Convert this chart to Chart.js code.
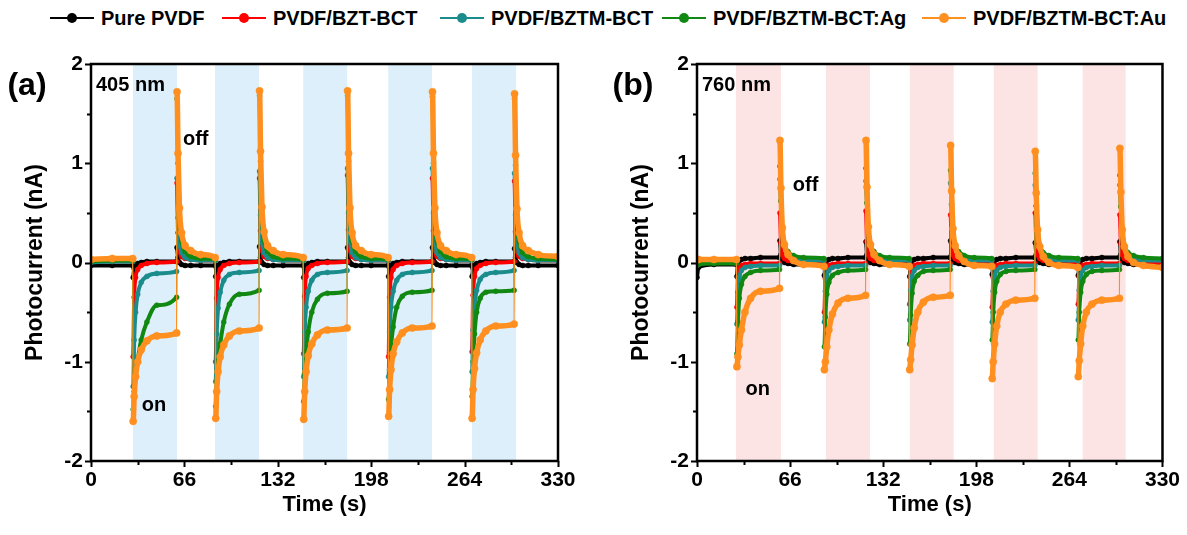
<!DOCTYPE html>
<html>
<head>
<meta charset="utf-8">
<script src="https://cdn.jsdelivr.net/npm/chart.js@4.4.1/dist/chart.umd.min.js"></script>
<style>
  body { margin: 0; background: #fff; width: 1187px; height: 535px; overflow: hidden; position: relative;
         font-family: "Liberation Sans", Arial, sans-serif; }
  .item { position: absolute; top: 7px; height: 22px; display: flex; align-items: center;
          font-weight: bold; font-size: 20px; color: #000; white-space: nowrap; }
  .sw { position: relative; width: 44px; height: 2px; margin-right: 7px; }
  .sw b { position: absolute; left: 17px; top: -4px; width: 10px; height: 10px; border-radius: 50%; }
  .wrap { position: absolute; top: 0; height: 535px; }
</style>
</head>
<body>
<div id="legend"></div>
<div class="wrap" style="left:0;width:590px"><canvas id="chartA"></canvas></div>
<div class="wrap" style="left:606px;width:581px"><canvas id="chartB"></canvas></div>
<script>
// series names and colours
const seriesNames = ["Pure PVDF", "PVDF/BZT-BCT", "PVDF/BZTM-BCT", "PVDF/BZTM-BCT:Ag", "PVDF/BZTM-BCT:Au"];
const seriesColors = ["#000000", "#ff0000", "#1b8c8c", "#118811", "#ff8f1f"];

const xTicks = [0, 66, 132, 198, 264, 330];
const yTicks = [-2, -1, 0, 1, 2];

// (a) 405 nm - light on periods (shaded)
const bandStartA = [29.7, 87.6, 150, 210, 269.3];
const bandEndA = [60.8, 118.7, 181, 241, 300.4];

// (a) sample times (s)
const timeA = [
  0, 15,
  29.5, 29.8, 30.5, 31.5, 33, 35.5, 39.5, 46.5, 60.5, 60.8, 61.5, 62.5, 64, 66.5, 70.5, 77.5,
  87.8, 88.1, 88.8, 89.8, 91.3, 93.8, 97.8, 104.8, 118.8, 119.1, 119.8, 120.8, 122.3, 124.8, 128.8, 135.8,
  150, 150.3, 151, 152, 153.5, 156, 160, 167, 181, 181.3, 182, 183, 184.5, 187, 191, 198,
  210, 210.3, 211, 212, 213.5, 216, 220, 227, 241, 241.3, 242, 243, 244.5, 247, 251, 258,
  269, 269.3, 270, 271, 272.5, 275, 279, 286, 299, 299.3, 300, 301, 302.5, 305, 309, 316,
  330
];

const pureA = [
  -0.03, -0.03,
  -0.03, -0.15, -0.06, -0.03, -0.01, 0.00, 0.01, 0.01, 0.01, 0.15, 0.05, 0.00, -0.02, -0.03, -0.03, -0.03,
  -0.03, -0.14, -0.06, -0.03, -0.01, 0.00, 0.01, 0.01, 0.01, 0.16, 0.05, 0.00, -0.02, -0.03, -0.03, -0.03,
  -0.03, -0.15, -0.06, -0.03, -0.01, 0.00, 0.01, 0.01, 0.01, 0.15, 0.05, 0.00, -0.02, -0.03, -0.03, -0.03,
  -0.03, -0.14, -0.06, -0.03, -0.01, 0.00, 0.01, 0.01, 0.01, 0.15, 0.05, 0.00, -0.02, -0.03, -0.03, -0.03,
  -0.03, -0.14, -0.06, -0.03, -0.01, 0.00, 0.01, 0.01, 0.01, 0.14, 0.05, 0.00, -0.02, -0.03, -0.03, -0.03,
  -0.03
];
const bztA = [
  0.01, 0.02,
  0.02, -0.95, -0.35, -0.15, -0.07, -0.03, -0.01, 0.00, 0.01, 0.80, 0.30, 0.12, 0.06, 0.04, 0.03, 0.02,
  0.02, -1.00, -0.36, -0.15, -0.07, -0.03, -0.01, 0.00, 0.01, 0.85, 0.32, 0.13, 0.06, 0.04, 0.03, 0.02,
  0.02, -0.92, -0.34, -0.14, -0.06, -0.03, -0.01, 0.00, 0.01, 0.88, 0.33, 0.13, 0.06, 0.04, 0.03, 0.02,
  0.02, -0.95, -0.35, -0.15, -0.07, -0.03, -0.01, 0.00, 0.01, 0.85, 0.32, 0.13, 0.06, 0.04, 0.03, 0.02,
  0.02, -0.90, -0.33, -0.14, -0.06, -0.03, -0.01, 0.00, 0.01, 0.82, 0.31, 0.12, 0.06, 0.04, 0.03, 0.02,
  0.02
];
const bztmA = [
  0.00, 0.01,
  0.01, -1.25, -0.78, -0.50, -0.32, -0.20, -0.14, -0.11, -0.09, 0.85, 0.45, 0.20, 0.10, 0.05, 0.03, 0.02,
  0.02, -1.20, -0.72, -0.46, -0.30, -0.18, -0.12, -0.10, -0.08, 0.92, 0.48, 0.21, 0.10, 0.05, 0.03, 0.02,
  0.02, -1.15, -0.70, -0.45, -0.29, -0.18, -0.12, -0.10, -0.08, 0.95, 0.50, 0.22, 0.10, 0.05, 0.03, 0.02,
  0.02, -1.15, -0.70, -0.45, -0.29, -0.18, -0.12, -0.10, -0.08, 0.95, 0.50, 0.22, 0.10, 0.05, 0.03, 0.02,
  0.02, -1.10, -0.68, -0.44, -0.28, -0.17, -0.12, -0.10, -0.08, 0.90, 0.48, 0.21, 0.10, 0.05, 0.03, 0.02,
  0.02
];
const agA = [
  0.01, 0.02,
  0.02, -1.48, -1.30, -1.15, -0.98, -0.78, -0.60, -0.43, -0.35, 1.65, 1.00, 0.45, 0.22, 0.11, 0.06, 0.04,
  0.03, -1.45, -1.20, -1.00, -0.82, -0.60, -0.42, -0.32, -0.28, 1.68, 1.02, 0.46, 0.22, 0.11, 0.06, 0.04,
  0.03, -1.40, -1.12, -0.90, -0.70, -0.50, -0.37, -0.31, -0.29, 1.68, 1.02, 0.46, 0.22, 0.11, 0.06, 0.04,
  0.03, -1.38, -1.08, -0.85, -0.65, -0.45, -0.34, -0.30, -0.28, 1.67, 1.00, 0.45, 0.22, 0.11, 0.06, 0.04,
  0.03, -1.35, -1.00, -0.72, -0.50, -0.36, -0.30, -0.29, -0.28, 1.65, 0.98, 0.44, 0.21, 0.10, 0.06, 0.04,
  0.03
];
const auA = [
  0.03, 0.04,
  0.04, -1.60, -1.35, -1.15, -1.00, -0.88, -0.79, -0.74, -0.71, 1.72, 1.10, 0.55, 0.30, 0.17, 0.12, 0.08,
  0.05, -1.57, -1.30, -1.10, -0.95, -0.83, -0.74, -0.69, -0.66, 1.73, 1.12, 0.56, 0.31, 0.17, 0.12, 0.08,
  0.05, -1.58, -1.30, -1.10, -0.94, -0.82, -0.73, -0.68, -0.66, 1.73, 1.10, 0.55, 0.30, 0.17, 0.12, 0.08,
  0.05, -1.55, -1.28, -1.08, -0.92, -0.80, -0.71, -0.66, -0.64, 1.72, 1.10, 0.55, 0.30, 0.17, 0.12, 0.08,
  0.05, -1.57, -1.28, -1.07, -0.91, -0.78, -0.69, -0.64, -0.62, 1.70, 1.08, 0.54, 0.30, 0.17, 0.12, 0.08,
  0.06
];

// (b) 760 nm
const bandStartB = [27.6, 91.4, 150.9, 210.4, 273.4];
const bandEndB = [59.5, 122.6, 182, 241.5, 303.9];

const timeB = [
  0, 1, 12,
  28, 28.3, 29, 30, 31.5, 34, 38, 45, 58.5, 58.8, 59.5, 60.5, 62, 64.5, 68.5, 75.5,
  90, 90.3, 91, 92, 93.5, 96, 100, 107, 119.5, 119.8, 120.5, 121.5, 123, 125.5, 129.5, 136.5,
  150.5, 150.8, 151.5, 152.5, 154, 156.5, 160.5, 167.5, 179.5, 179.8, 180.5, 181.5, 183, 185.5, 189.5, 196.5,
  209, 209.3, 210, 211, 212.5, 215, 219, 226, 239.5, 239.8, 240.5, 241.5, 243, 245.5, 249.5, 256.5,
  270, 270.3, 271, 272, 273.5, 276, 280, 287, 299.5, 299.8, 300.5, 301.5, 303, 305.5, 309.5, 316.5,
  330
];

const pureB = [
  -0.15, -0.05, -0.02,
  -0.02, -0.14, -0.02, 0.02, 0.03, 0.04, 0.04, 0.05, 0.05, 0.22, 0.08, 0.02, 0.00, -0.01, -0.02, -0.02,
  -0.02, -0.13, -0.02, 0.02, 0.03, 0.04, 0.04, 0.05, 0.05, 0.21, 0.08, 0.02, 0.00, -0.01, -0.02, -0.02,
  -0.02, -0.14, -0.02, 0.02, 0.03, 0.04, 0.04, 0.05, 0.05, 0.22, 0.08, 0.02, 0.00, -0.01, -0.02, -0.02,
  -0.02, -0.12, -0.02, 0.02, 0.03, 0.04, 0.04, 0.05, 0.05, 0.20, 0.08, 0.02, 0.00, -0.01, -0.02, -0.02,
  -0.02, -0.13, -0.02, 0.02, 0.03, 0.04, 0.04, 0.05, 0.05, 0.21, 0.08, 0.02, 0.00, -0.01, -0.02, -0.02,
  -0.02
];
const bztB = [
  -0.03, -0.01, 0.00,
  0.00, -0.45, -0.15, -0.06, -0.03, -0.02, -0.01, -0.01, -0.01, 0.50, 0.20, 0.08, 0.04, 0.02, 0.01, 0.00,
  0.00, -0.50, -0.16, -0.06, -0.03, -0.02, -0.01, -0.01, -0.01, 0.52, 0.21, 0.08, 0.04, 0.02, 0.01, 0.00,
  0.00, -0.42, -0.14, -0.06, -0.03, -0.02, -0.01, -0.01, -0.01, 0.48, 0.19, 0.08, 0.04, 0.02, 0.01, 0.00,
  0.00, -0.45, -0.15, -0.06, -0.03, -0.02, -0.01, -0.01, -0.01, 0.50, 0.20, 0.08, 0.04, 0.02, 0.01, 0.00,
  0.00, -0.42, -0.14, -0.06, -0.03, -0.02, -0.01, -0.01, -0.01, 0.48, 0.19, 0.08, 0.04, 0.02, 0.01, 0.00,
  0.00
];
const bztmB = [
  -0.02, -0.01, 0.00,
  0.00, -0.62, -0.30, -0.15, -0.08, -0.05, -0.04, -0.03, -0.03, 0.84, 0.62, 0.36, 0.18, 0.08, 0.04, 0.02,
  0.02, -0.60, -0.29, -0.14, -0.08, -0.05, -0.04, -0.03, -0.03, 0.82, 0.60, 0.35, 0.18, 0.08, 0.04, 0.02,
  0.02, -0.58, -0.28, -0.14, -0.08, -0.05, -0.04, -0.03, -0.03, 0.80, 0.58, 0.34, 0.17, 0.08, 0.04, 0.02,
  0.02, -0.60, -0.29, -0.14, -0.08, -0.05, -0.04, -0.03, -0.03, 0.78, 0.57, 0.33, 0.17, 0.08, 0.04, 0.02,
  0.02, -0.58, -0.28, -0.14, -0.08, -0.05, -0.04, -0.03, -0.03, 0.78, 0.57, 0.33, 0.17, 0.08, 0.04, 0.02,
  0.02
];
const agB = [
  -0.03, -0.02, -0.01,
  -0.01, -0.92, -0.60, -0.36, -0.22, -0.14, -0.10, -0.08, -0.07, 0.97, 0.62, 0.32, 0.18, 0.11, 0.07, 0.05,
  0.04, -0.85, -0.55, -0.32, -0.20, -0.13, -0.10, -0.08, -0.07, 0.95, 0.60, 0.31, 0.18, 0.11, 0.07, 0.05,
  0.04, -0.82, -0.53, -0.31, -0.19, -0.13, -0.09, -0.08, -0.07, 0.93, 0.59, 0.30, 0.17, 0.11, 0.07, 0.05,
  0.04, -0.78, -0.50, -0.30, -0.19, -0.12, -0.09, -0.08, -0.07, 0.90, 0.57, 0.29, 0.17, 0.10, 0.07, 0.05,
  0.04, -0.78, -0.50, -0.30, -0.19, -0.12, -0.09, -0.08, -0.07, 0.88, 0.56, 0.29, 0.17, 0.10, 0.07, 0.05,
  0.04
];
const auB = [
  0.03, 0.03, 0.03,
  0.03, -1.05, -0.95, -0.83, -0.68, -0.50, -0.36, -0.29, -0.26, 1.23, 0.75, 0.35, 0.18, 0.08, 0.02, -0.02,
  -0.04, -1.08, -1.00, -0.85, -0.68, -0.52, -0.41, -0.36, -0.33, 1.23, 0.76, 0.36, 0.18, 0.08, 0.02, -0.02,
  -0.04, -1.08, -0.98, -0.83, -0.66, -0.50, -0.40, -0.35, -0.33, 1.18, 0.72, 0.34, 0.17, 0.07, 0.01, -0.03,
  -0.04, -1.17, -1.00, -0.82, -0.64, -0.50, -0.42, -0.38, -0.36, 1.12, 0.70, 0.33, 0.16, 0.06, 0.00, -0.03,
  -0.05, -1.15, -0.99, -0.82, -0.64, -0.50, -0.42, -0.38, -0.36, 1.15, 0.71, 0.33, 0.16, 0.06, 0.00, -0.03,
  -0.05
];

// legend (shared by both panels)
const legendLeft = [50, 222, 440, 662, 922];
const legend = document.getElementById("legend");
seriesNames.forEach((name, i) => {
  const el = document.createElement("div");
  el.className = "item";
  el.style.left = legendLeft[i] + "px";
  el.innerHTML = '<span class="sw" style="background:' + seriesColors[i] + '"><b style="background:' +
    seriesColors[i] + '"></b></span>' + name;
  legend.appendChild(el);
});

const FONT = "'Liberation Sans', Arial, sans-serif";

// bands, frame, tick marks and texts
const framePlugin = {
  id: "frame",
  beforeDatasetsDraw(chart, args, opts) {
    const { ctx, chartArea: ca, scales: { x } } = chart;
    ctx.save();
    ctx.fillStyle = opts.bandColor;
    opts.bandStart.forEach((s, i) => {
      const x0 = x.getPixelForValue(s);
      const x1 = x.getPixelForValue(opts.bandEnd[i]);
      ctx.fillRect(x0, ca.top, x1 - x0, ca.bottom - ca.top);
    });
    ctx.restore();
  },
  afterDatasetsDraw(chart, args, opts) {
    const { ctx, chartArea: ca, scales: { x, y } } = chart;
    ctx.save();
    ctx.strokeStyle = "#000";
    ctx.lineWidth = 2.5;
    ctx.strokeRect(ca.left, ca.top, ca.right - ca.left, ca.bottom - ca.top);

    // tick marks
    ctx.lineWidth = 2;
    ctx.beginPath();
    for (let v = -2; v <= 2.001; v += 0.5) {
      const py = Math.round(y.getPixelForValue(v)) + 0.5;
      const len = Math.abs(v % 1) < 0.01 ? 6 : 4;
      ctx.moveTo(ca.left, py);
      ctx.lineTo(ca.left - len, py);
    }
    for (let v = 0; v <= 330.1; v += 33) {
      const px = Math.round(x.getPixelForValue(v)) + 0.5;
      const len = (v / 33) % 2 === 0 ? 6 : 4;
      ctx.moveTo(px, ca.bottom);
      ctx.lineTo(px, ca.bottom + len);
    }
    ctx.stroke();

    // texts in the plot
    ctx.fillStyle = "#000";
    ctx.textBaseline = "middle";
    ctx.font = "bold 20px " + FONT;
    ctx.textAlign = "left";
    ctx.fillText(opts.wave, ca.left + 5, ca.top + 21);
    ctx.textAlign = "center";
    opts.notes.forEach(n => {
      ctx.fillText(n.text, x.getPixelForValue(n.x), y.getPixelForValue(n.y));
    });

    // axis titles and panel letter
    ctx.font = "bold 22px " + FONT;
    ctx.fillText("Time (s)", (ca.left + ca.right) / 2, 505);
    ctx.save();
    ctx.translate(36, (ca.top + ca.bottom) / 2);
    ctx.rotate(-Math.PI / 2);
    ctx.font = "bold 23px " + FONT;
    ctx.fillText("Photocurrent (nA)", 0, 0);
    ctx.restore();
    ctx.font = "bold 32px " + FONT;
    ctx.fillText(opts.panel, 27, 86);
    ctx.restore();
  }
};

function makeSet(i, times, values) {
  const big = i === 4;
  const w = big ? 5.5 : 4;
  return {
    label: seriesNames[i],
    data: times.map((t, k) => ({ x: t, y: values[k] })),
    borderColor: seriesColors[i],
    backgroundColor: seriesColors[i],
    pointBackgroundColor: seriesColors[i],
    pointBorderColor: seriesColors[i],
    pointBorderWidth: 0.5,
    pointRadius: big ? 3.6 : 2.5,
    borderWidth: w,
    cubicInterpolationMode: "monotone",
    order: 5 - i,
    segment: {
      borderWidth: c => (c.p1.parsed.x - c.p0.parsed.x < 0.5 ? 1.3 : w)
    }
  };
}

function makeChart(id, times, series, padRight, extra) {
  new Chart(document.getElementById(id), {
    type: "line",
    data: { datasets: series.map((vals, i) => makeSet(i, times, vals)) },
    options: {
      responsive: true,
      maintainAspectRatio: false,
      animation: false,
      layout: { padding: { top: 64, right: padRight, bottom: 0, left: 0 } },
      plugins: { legend: { display: false }, tooltip: { enabled: false }, frame: extra },
      scales: {
        x: {
          type: "linear", min: 0, max: 330,
          afterBuildTicks: s => { s.ticks = xTicks.map(v => ({ value: v })); },
          afterFit: s => { s.height = 74; },
          grid: { display: false, drawTicks: false },
          border: { display: false },
          ticks: { padding: 7, color: "#000", font: { family: FONT, size: 21, weight: "bold" } }
        },
        y: {
          min: -2, max: 2,
          afterBuildTicks: s => { s.ticks = yTicks.map(v => ({ value: v })); },
          afterFit: s => { s.width = 91; },
          grid: { display: false, drawTicks: false },
          border: { display: false },
          ticks: { padding: 8, color: "#000", font: { family: FONT, size: 21, weight: "bold" } }
        }
      }
    },
    plugins: [framePlugin]
  });
}

makeChart("chartA", timeA, [pureA, bztA, bztmA, agA, auA], 32, {
  bandColor: "#ddeffb", bandStart: bandStartA, bandEnd: bandEndA,
  wave: "405 nm", panel: "(a)",
  notes: [{ text: "off", x: 74, y: 1.24 }, { text: "on", x: 44.5, y: -1.44 }]
});
makeChart("chartB", timeB, [pureB, bztB, bztmB, agB, auB], 24, {
  bandColor: "#fde4e4", bandStart: bandStartB, bandEnd: bandEndB,
  wave: "760 nm", panel: "(b)",
  notes: [{ text: "off", x: 77, y: 0.78 }, { text: "on", x: 43, y: -1.28 }]
});
</script>
</body>
</html>
